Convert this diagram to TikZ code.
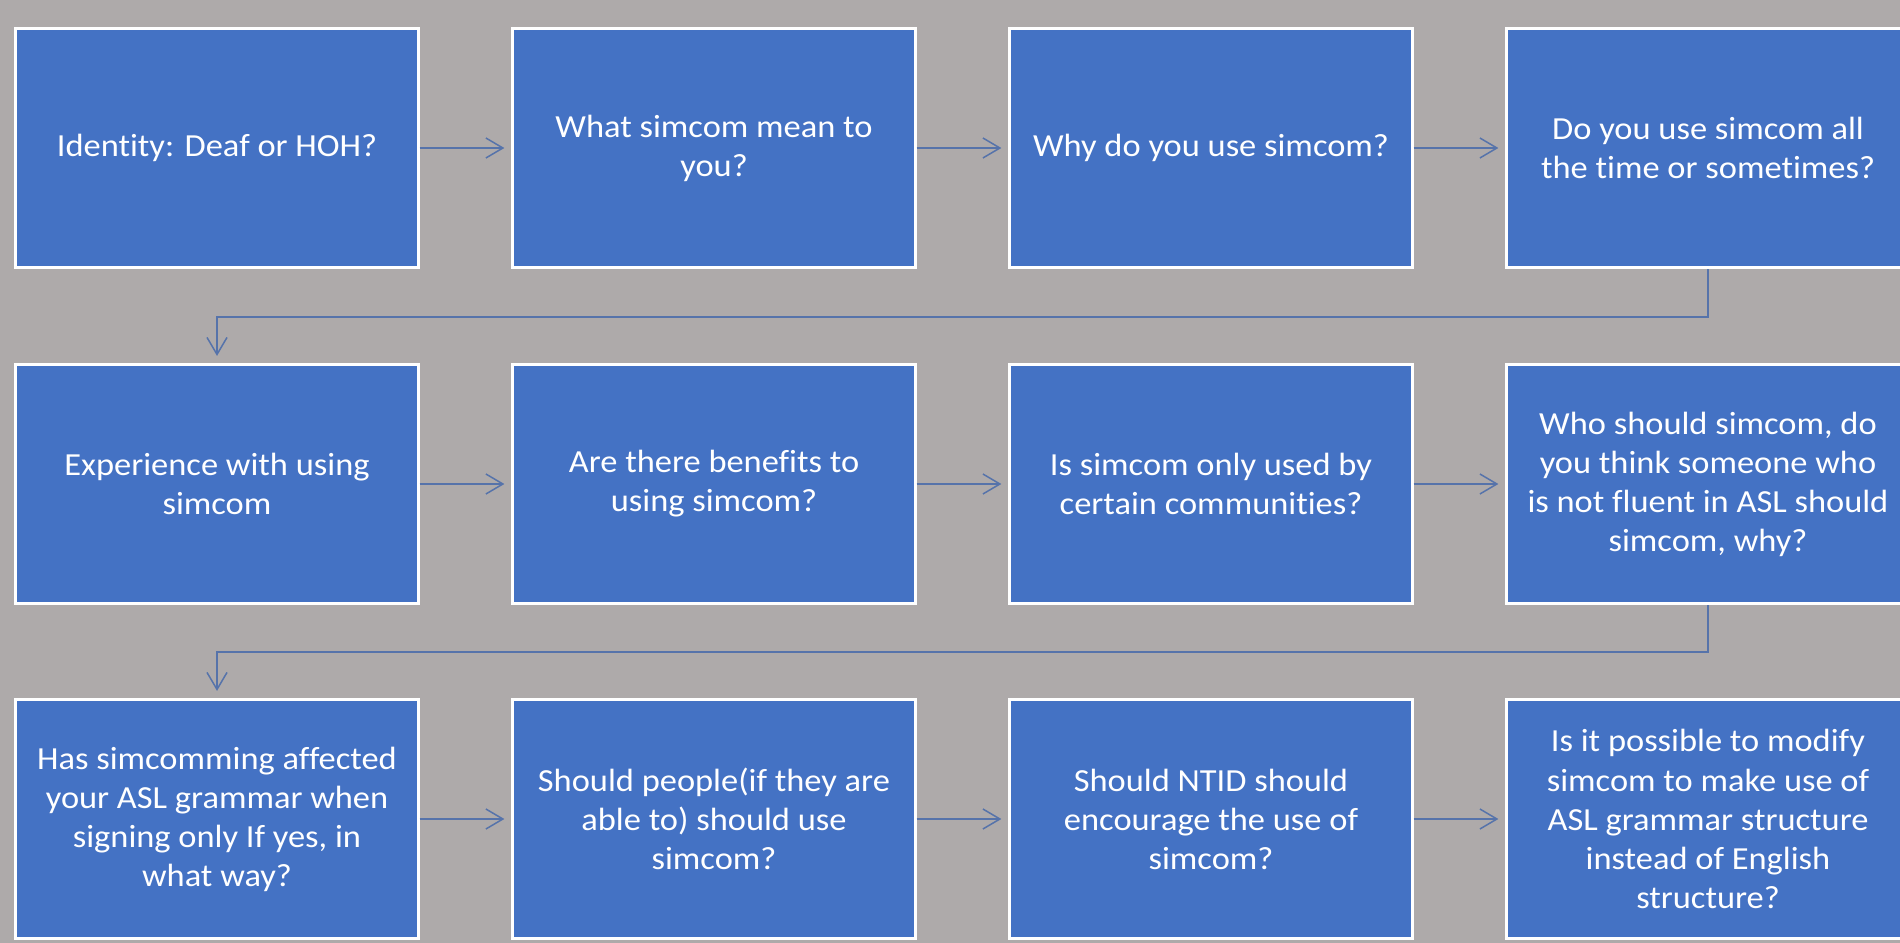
\documentclass[tikz,border=0pt]{standalone}
\usepackage{fontspec}
\setmainfont{Carlito}[FakeStretch=1.07,Ligatures={NoCommon}]
\usetikzlibrary{arrows.meta}
\definecolor{bggray}{HTML}{AEAAAA}
\definecolor{boxblue}{HTML}{4472C4}
\definecolor{linkblue}{HTML}{5673AA}
\begin{document}
\begin{tikzpicture}[x=0.01cm,y=-0.01cm,
  qbox/.style={draw=white,line width=0.3mm,fill=boxblue,text=white,
    minimum width=4.02cm,minimum height=2.39cm,inner sep=0pt,align=center,
    font=\fontsize{9.15pt}{11.1pt}\selectfont},
  link/.style={draw=linkblue,line width=0.15mm,
    -{Straight Barb[length=1.7mm,width=2mm]},shorten >=0.7mm}]
\useasboundingbox[fill=bggray] (0,0) rectangle (1900,943);
% row 1
\node[qbox] (b1) at (217,148) {Identity: Deaf or HOH?};
\node[qbox] (b2) at (714,148) {What simcom mean to\\you?};
\node[qbox] (b3) at (1211,148) {Why do you use simcom?};
\node[qbox] (b4) at (1708,148) {Do you use simcom all\\the time or sometimes?};
% row 2
\node[qbox] (b5) at (217,484) {Experience with using\\simcom};
\node[qbox] (b6) at (714,484) {Are there benefits to\\using simcom?};
\node[qbox] (b7) at (1211,484) {Is simcom only used by\\certain communities?};
\node[qbox] (b8) at (1708,484) {Who should simcom, do\\you think someone who\\is not fluent in ASL should\\simcom, why?};
% row 3
\node[qbox] (b9) at (217,819) {Has simcomming affected\\your ASL grammar when\\signing only If yes, in\\what way?};
\node[qbox] (b10) at (714,819) {Should people(if they are\\able to) should use\\simcom?};
\node[qbox] (b11) at (1211,819) {Should NTID should\\encourage the use of\\simcom?};
\node[qbox] (b12) at (1708,819) {Is it possible to modify\\simcom to make use of\\ASL grammar structure\\instead of English\\structure?};
% horizontal connectors
\draw[link] (b1) -- (b2);
\draw[link] (b2) -- (b3);
\draw[link] (b3) -- (b4);
\draw[link] (b5) -- (b6);
\draw[link] (b6) -- (b7);
\draw[link] (b7) -- (b8);
\draw[link] (b9) -- (b10);
\draw[link] (b10) -- (b11);
\draw[link] (b11) -- (b12);
% elbow connectors
\coordinate (t1) at (0,317);
\coordinate (t2) at (0,652);
\draw[link] (b4.south) -- (b4.south |- t1) -- (b5.north |- t1) -- (b5.north);
\draw[link] (b8.south) -- (b8.south |- t2) -- (b9.north |- t2) -- (b9.north);
\end{tikzpicture}
\end{document}
